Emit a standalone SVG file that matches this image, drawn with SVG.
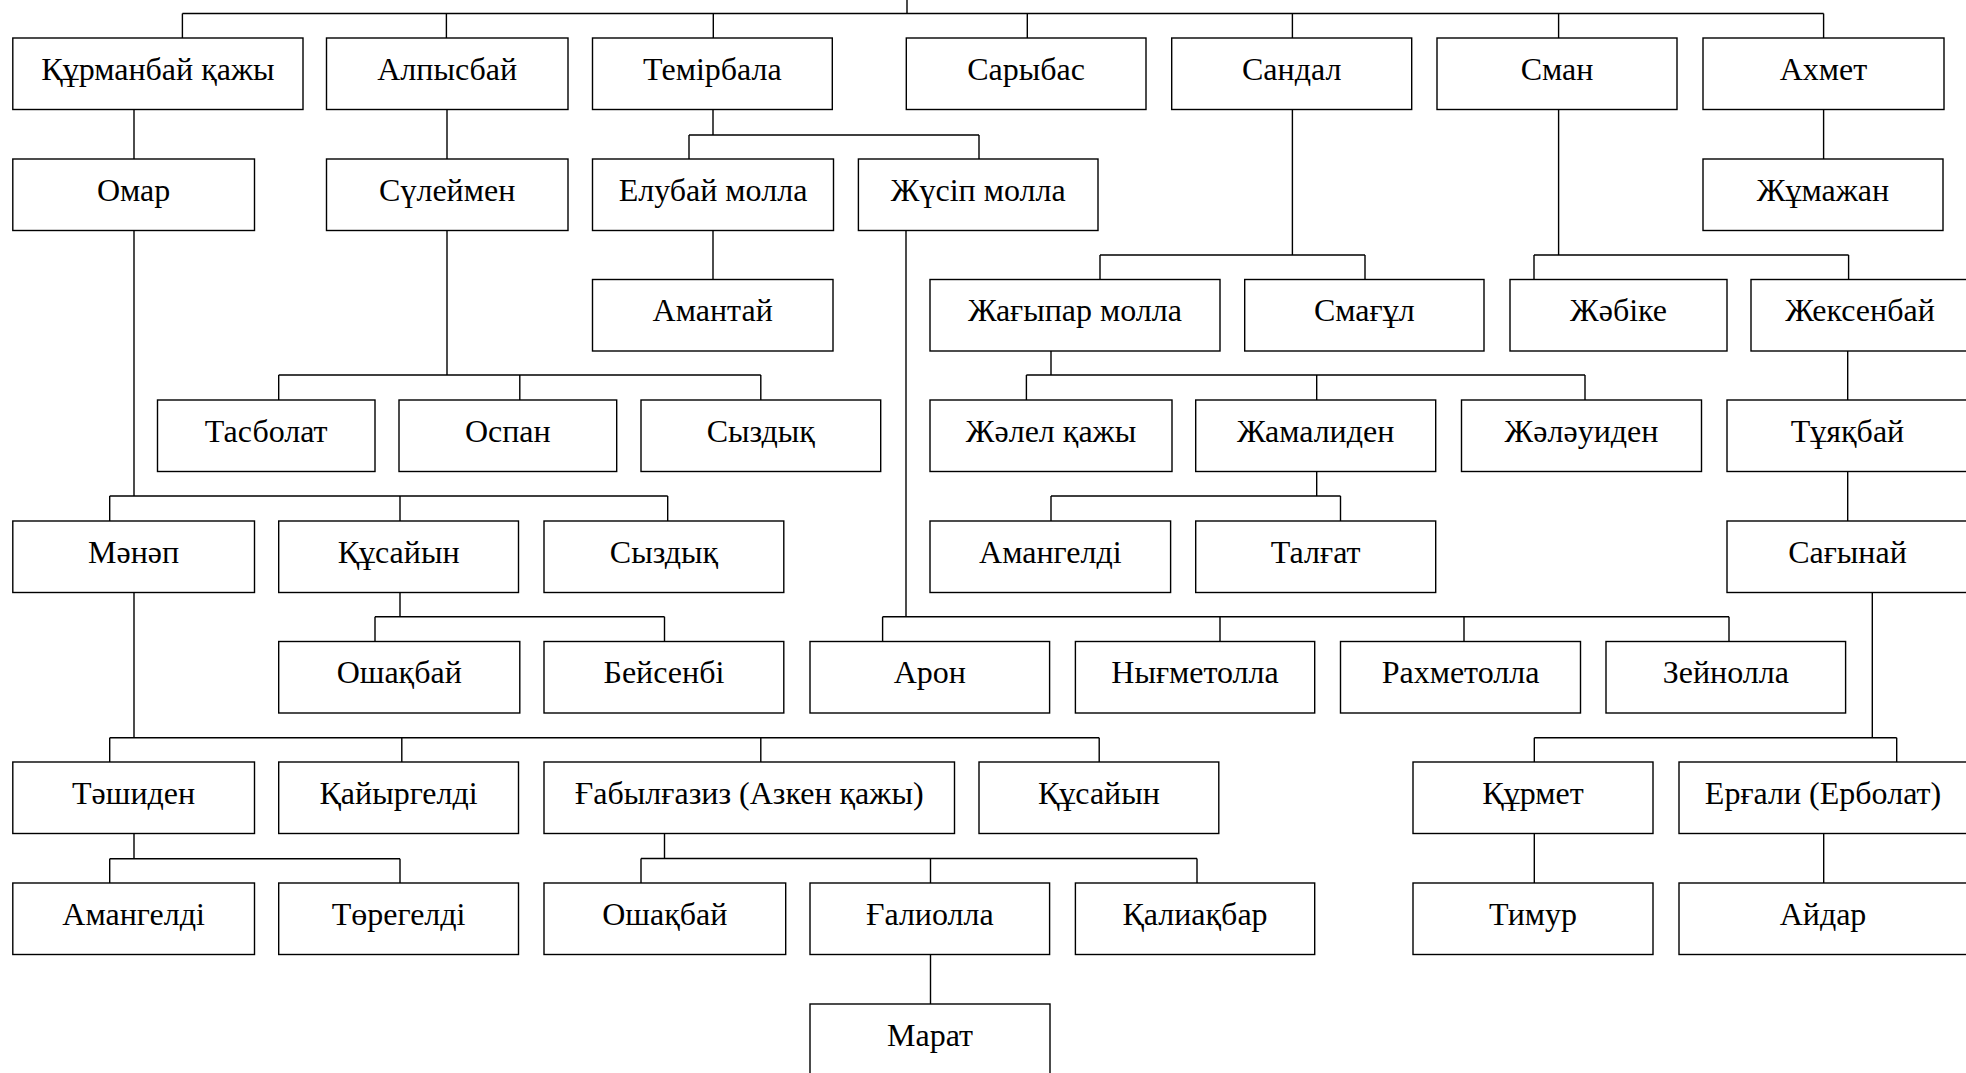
<svg xmlns="http://www.w3.org/2000/svg" width="1966" height="1073" viewBox="0 0 1966 1073">
<style>
.n rect{fill:#fff;stroke:#000;stroke-width:1.4}
.n text{font-family:"Liberation Serif","Times New Roman",serif;font-size:32px;fill:#000;text-anchor:middle}
#connectors path{fill:none;stroke:#000;stroke-width:1.4}
</style>
<rect width="1966" height="1073" fill="#fff"/>
<g id="connectors">
<path d="M907 0V13.5M182.4 13.5H1823.6M182.4 13.5V38M446.4 13.5V38M713.3 13.5V38M1027.3 13.5V38M1292.4 13.5V38M1558.6 13.5V38M1823.6 13.5V38"/>
<path d="M134 109.5V159"/>
<path d="M447 109.5V159"/>
<path d="M713 109.5V135M689 135H979M689 135V159M979 135V159"/>
<path d="M1823.6 109.5V159"/>
<path d="M713 230.5V279.5"/>
<path d="M1292.4 109.5V255M1100 255H1365M1100 255V279.5M1365 255V279.5"/>
<path d="M1558.6 109.5V255M1534 255H1848.6M1534 255V279.5M1848.6 255V279.5"/>
<path d="M447 230.5V375M278.7 375H760.8M278.7 375V400M519.8 375V400M760.8 375V400"/>
<path d="M1051 351V375M1026.4 375H1585M1026.4 375V400M1316.7 375V400M1585 375V400"/>
<path d="M1847.7 351V400"/>
<path d="M134 230.5V496M109.7 496H667.7M109.7 496V521M400 496V521M667.7 496V521"/>
<path d="M1316.7 471.5V496M1051 496H1340.5M1051 496V521M1340.5 496V521"/>
<path d="M1847.7 471.5V521"/>
<path d="M400 592.5V616.7M375 616.7H664.5M375 616.7V641.5M664.5 616.7V641.5"/>
<path d="M906 230.5V616.7M882.6 616.7H1729M882.6 616.7V641.5M1220 616.7V641.5M1464 616.7V641.5M1729 616.7V641.5"/>
<path d="M134 592.5V737.7M109.7 737.7H1099.2M109.7 737.7V762M401.8 737.7V762M760.8 737.7V762M1099.2 737.7V762"/>
<path d="M1872.3 592.5V737.7M1534.3 737.7H1896.7M1534.3 737.7V762M1896.7 737.7V762"/>
<path d="M134 833.5V858.7M109.7 858.7H400M109.7 858.7V883M400 858.7V883"/>
<path d="M664.5 833.5V858.5M641 858.5H1197M641 858.5V883M930.5 858.5V883M1197 858.5V883"/>
<path d="M1534.3 833.5V883"/>
<path d="M1823.7 833.5V883"/>
<path d="M930.5 954.5V1004"/>
</g>
<g id="n1" class="n"><rect x="12.8" y="38" width="290.2" height="71.5"/><text x="157.9" y="79.5">Құрманбай қажы</text></g>
<g id="n2" class="n"><rect x="326.5" y="38" width="241.5" height="71.5"/><text x="447.2" y="79.5">Алпысбай</text></g>
<g id="n3" class="n"><rect x="592.5" y="38" width="239.8" height="71.5"/><text x="712.4" y="79.5">Темірбала</text></g>
<g id="n4" class="n"><rect x="906.3" y="38" width="239.7" height="71.5"/><text x="1026.1" y="79.5">Сарыбас</text></g>
<g id="n5" class="n"><rect x="1171.7" y="38" width="240" height="71.5"/><text x="1291.7" y="79.5">Сандал</text></g>
<g id="n6" class="n"><rect x="1437" y="38" width="240" height="71.5"/><text x="1557" y="79.5">Сман</text></g>
<g id="n7" class="n"><rect x="1703" y="38" width="241" height="71.5"/><text x="1823.5" y="79.5">Ахмет</text></g>
<g id="n8" class="n"><rect x="12.8" y="159" width="241.7" height="71.5"/><text x="133.6" y="200.5">Омар</text></g>
<g id="n9" class="n"><rect x="326.5" y="159" width="241.5" height="71.5"/><text x="447.2" y="200.5">Сүлеймен</text></g>
<g id="n10" class="n"><rect x="592.5" y="159" width="241" height="71.5"/><text x="713" y="200.5">Елубай молла</text></g>
<g id="n11" class="n"><rect x="858.4" y="159" width="239.6" height="71.5"/><text x="978.2" y="200.5">Жүсіп молла</text></g>
<g id="n12" class="n"><rect x="1703" y="159" width="240" height="71.5"/><text x="1823" y="200.5">Жұмажан</text></g>
<g id="n13" class="n"><rect x="592.5" y="279.5" width="240.5" height="71.5"/><text x="712.7" y="321">Амантай</text></g>
<g id="n14" class="n"><rect x="930" y="279.5" width="290" height="71.5"/><text x="1075" y="321">Жағыпар молла</text></g>
<g id="n15" class="n"><rect x="1244.7" y="279.5" width="239.3" height="71.5"/><text x="1364.3" y="321">Смағұл</text></g>
<g id="n16" class="n"><rect x="1510" y="279.5" width="217" height="71.5"/><text x="1618.5" y="321">Жәбіке</text></g>
<g id="n17" class="n"><rect x="1751" y="279.5" width="218" height="71.5"/><text x="1860" y="321">Жексенбай</text></g>
<g id="n18" class="n"><rect x="157.5" y="400" width="217.5" height="71.5"/><text x="266.2" y="441.5">Тасболат</text></g>
<g id="n19" class="n"><rect x="399" y="400" width="217.7" height="71.5"/><text x="507.8" y="441.5">Оспан</text></g>
<g id="n20" class="n"><rect x="641" y="400" width="239.7" height="71.5"/><text x="760.8" y="441.5">Сыздық</text></g>
<g id="n21" class="n"><rect x="930" y="400" width="242" height="71.5"/><text x="1051" y="441.5">Жәлел қажы</text></g>
<g id="n22" class="n"><rect x="1195.7" y="400" width="240" height="71.5"/><text x="1315.7" y="441.5">Жамалиден</text></g>
<g id="n23" class="n"><rect x="1461.5" y="400" width="240" height="71.5"/><text x="1581.5" y="441.5">Жәләуиден</text></g>
<g id="n24" class="n"><rect x="1727" y="400" width="240" height="71.5"/><text x="1847.5" y="441.5">Тұяқбай</text></g>
<g id="n25" class="n"><rect x="12.8" y="521" width="241.7" height="71.5"/><text x="133.6" y="562.5">Мәнәп</text></g>
<g id="n26" class="n"><rect x="278.7" y="521" width="239.8" height="71.5"/><text x="398.6" y="562.5">Құсайын</text></g>
<g id="n27" class="n"><rect x="544" y="521" width="239.8" height="71.5"/><text x="663.9" y="562.5">Сыздық</text></g>
<g id="n28" class="n"><rect x="930" y="521" width="240.6" height="71.5"/><text x="1050.3" y="562.5">Амангелді</text></g>
<g id="n29" class="n"><rect x="1195.7" y="521" width="240" height="71.5"/><text x="1315.7" y="562.5">Талғат</text></g>
<g id="n30" class="n"><rect x="1727" y="521" width="240" height="71.5"/><text x="1847.5" y="562.5">Сағынай</text></g>
<g id="n31" class="n"><rect x="278.7" y="641.5" width="241.1" height="71.5"/><text x="399.2" y="683">Ошақбай</text></g>
<g id="n32" class="n"><rect x="544" y="641.5" width="239.8" height="71.5"/><text x="663.9" y="683">Бейсенбі</text></g>
<g id="n33" class="n"><rect x="810" y="641.5" width="239.6" height="71.5"/><text x="929.8" y="683">Арон</text></g>
<g id="n34" class="n"><rect x="1075.4" y="641.5" width="239.3" height="71.5"/><text x="1195" y="683">Нығметолла</text></g>
<g id="n35" class="n"><rect x="1340.5" y="641.5" width="240" height="71.5"/><text x="1460.5" y="683">Рахметолла</text></g>
<g id="n36" class="n"><rect x="1606" y="641.5" width="239.6" height="71.5"/><text x="1725.8" y="683">Зейнолла</text></g>
<g id="n37" class="n"><rect x="12.8" y="762" width="241.7" height="71.5"/><text x="133.6" y="803.5">Тәшиден</text></g>
<g id="n38" class="n"><rect x="278.7" y="762" width="239.8" height="71.5"/><text x="398.6" y="803.5">Қайыргелді</text></g>
<g id="n39" class="n"><rect x="544" y="762" width="410.5" height="71.5"/><text x="749.2" y="803.5">Ғабылғазиз (Азкен қажы)</text></g>
<g id="n40" class="n"><rect x="979" y="762" width="239.8" height="71.5"/><text x="1098.9" y="803.5">Құсайын</text></g>
<g id="n41" class="n"><rect x="1413" y="762" width="240" height="71.5"/><text x="1533" y="803.5">Құрмет</text></g>
<g id="n42" class="n"><rect x="1679" y="762" width="288" height="71.5"/><text x="1823" y="803.5">Ерғали (Ерболат)</text></g>
<g id="n43" class="n"><rect x="12.8" y="883" width="241.7" height="71.5"/><text x="133.6" y="924.5">Амангелді</text></g>
<g id="n44" class="n"><rect x="278.7" y="883" width="239.8" height="71.5"/><text x="398.6" y="924.5">Төрегелді</text></g>
<g id="n45" class="n"><rect x="544" y="883" width="241.7" height="71.5"/><text x="664.8" y="924.5">Ошақбай</text></g>
<g id="n46" class="n"><rect x="810" y="883" width="239.6" height="71.5"/><text x="929.8" y="924.5">Ғалиолла</text></g>
<g id="n47" class="n"><rect x="1075.4" y="883" width="239.3" height="71.5"/><text x="1195" y="924.5">Қалиақбар</text></g>
<g id="n48" class="n"><rect x="1413" y="883" width="240" height="71.5"/><text x="1533" y="924.5">Тимур</text></g>
<g id="n49" class="n"><rect x="1679" y="883" width="288" height="71.5"/><text x="1823" y="924.5">Айдар</text></g>
<g id="n50" class="n"><rect x="810" y="1004" width="240" height="71.5"/><text x="930" y="1045.5">Марат</text></g>
</svg>
